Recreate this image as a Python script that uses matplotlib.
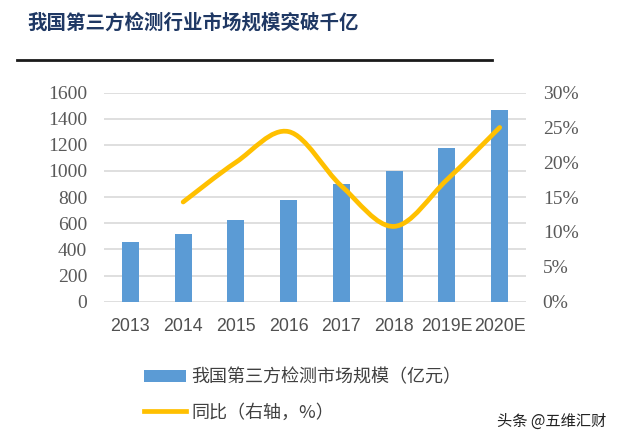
import matplotlib
matplotlib.use("Agg")
import matplotlib.pyplot as plt
from matplotlib.lines import Line2D
from matplotlib.patches import Patch, PathPatch
from matplotlib.path import Path
from matplotlib.ticker import PercentFormatter

plt.rcParams["font.family"] = ["Noto Sans CJK SC", "DejaVu Sans"]

# data
years = ["2013", "2014", "2015", "2016", "2017", "2018", "2019E", "2020E"]
market_size = [455, 520, 623, 776, 903, 1003, 1174, 1468]   # 亿元
yoy_years = ["2014", "2015", "2016", "2017", "2018", "2019E", "2020E"]
yoy = [14.3, 20.0, 24.4, 16.6, 10.8, 17.5, 25.0]             # %

title = "我国第三方检测行业市场规模突破千亿"
bar_label = "我国第三方检测市场规模（亿元）"
line_label = "同比（右轴，%）"
credit = "头条 @五维汇财"

BAR_C = "#5B9BD5"
LINE_C = "#FFC000"
TICK_C = "#595959"
GRID_C = "#D9D9D9"


def smooth_path(xs, ys):
    # Excel-style smoothed line: cubic Bezier segments through every point
    pts = list(zip(xs, ys))
    verts = [pts[0]]
    codes = [Path.MOVETO]
    n = len(pts)
    for i in range(n - 1):
        p0 = pts[max(i - 1, 0)]
        p1 = pts[i]
        p2 = pts[i + 1]
        p3 = pts[min(i + 2, n - 1)]
        c1 = (p1[0] + (p2[0] - p0[0]) / 6, p1[1] + (p2[1] - p0[1]) / 6)
        c2 = (p2[0] - (p3[0] - p1[0]) / 6, p2[1] - (p3[1] - p1[1]) / 6)
        verts += [c1, c2, p2]
        codes += [Path.CURVE4] * 3
    return Path(verts, codes)


fig = plt.figure(figsize=(6.4, 4.41), dpi=100)
ax = fig.add_axes([0.1625, 0.316, 0.6595, 0.474])

x = list(range(len(years)))
ax.bar(x, market_size, width=0.32, color=BAR_C, zorder=2)
ax.set_xlim(-0.5, len(years) - 0.5)
ax.set_ylim(0, 1600)
ax.set_yticks(range(0, 1601, 200))
ax.set_xticks(x, years)
ax.grid(axis="y", color=GRID_C, lw=1.2, zorder=0)
ax.set_axisbelow(True)
for s in ax.spines.values():
    s.set_visible(False)
ax.tick_params(axis="both", length=0)
ax.tick_params(axis="y", pad=12, labelsize=14, labelcolor=TICK_C)
ax.tick_params(axis="x", pad=12, labelsize=12.8, labelcolor="#505050")
for t in ax.get_yticklabels():
    t.set_fontfamily("Liberation Serif")
for t in ax.get_xticklabels():
    t.set_fontfamily("Liberation Sans")

ax2 = ax.twinx()
ax2.set_ylim(0, 30)
ax2.set_yticks(range(0, 31, 5))
ax2.yaxis.set_major_formatter(PercentFormatter(decimals=0))
for s in ax2.spines.values():
    s.set_visible(False)
ax2.tick_params(axis="y", length=0, pad=12, labelsize=14, labelcolor=TICK_C)
for t in ax2.get_yticklabels():
    t.set_fontfamily("Liberation Serif")

lx = [years.index(y) for y in yoy_years]
ax2.add_patch(PathPatch(smooth_path(lx, yoy), fill=False, edgecolor=LINE_C,
                        lw=3.4, capstyle="round", joinstyle="round", zorder=3))

fig.text(27 / 640, 1 - 23 / 441, title, fontsize=14, fontweight="bold",
         color="#1F3864", ha="left", va="center")
fig.add_artist(Line2D([17 / 640, 492 / 640], [1 - 60 / 441, 1 - 60 / 441],
                      color="#1a1a1a", lw=2))

handles = [Patch(facecolor=BAR_C, edgecolor="none"),
           Line2D([], [], color=LINE_C, lw=3.4)]
fig.legend(handles, [bar_label, line_label], loc="upper left",
           bbox_to_anchor=(128 / 640, 1 - 352 / 441), frameon=False,
           fontsize=13, labelcolor="#404040", handlelength=2.3,
           handleheight=0.6, handletextpad=0.3, labelspacing=0.95)

fig.text(497 / 640, 1 - 421 / 441, credit, fontsize=11, color="#222222",
         ha="left", va="center")

fig.savefig("out.png", dpi=100, facecolor="white")
